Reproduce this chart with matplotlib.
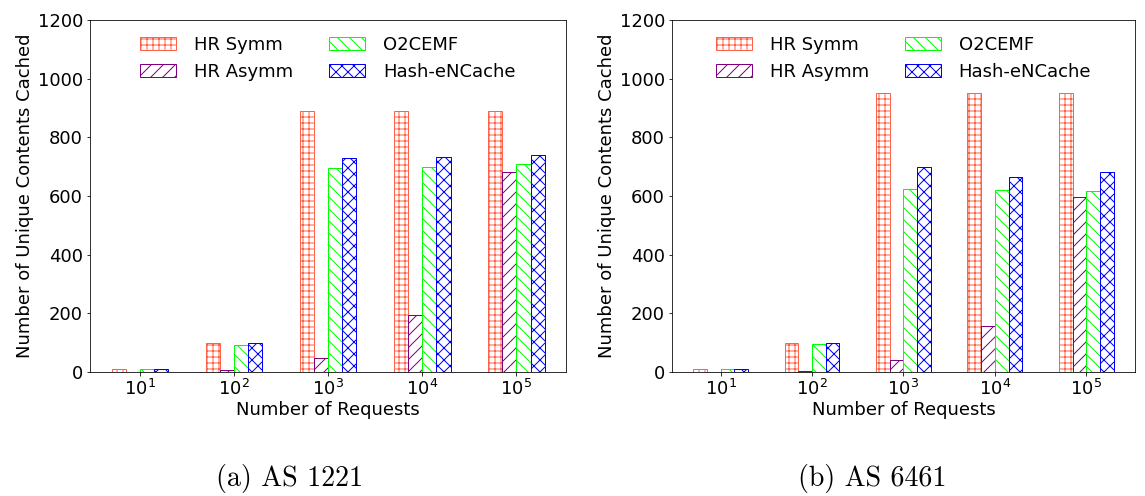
import numpy as np
import matplotlib.pyplot as plt

# Data
requests = ['$10^1$', '$10^2$', '$10^3$', '$10^4$', '$10^5$']
series = ['HR Symm', 'HR Asymm', 'O2CEMF', 'Hash-eNCache']

as1221_hr_symm = [10, 100, 890, 890, 890]
as1221_hr_asymm = [1, 7, 48, 193, 683]
as1221_o2cemf = [10, 93, 695, 700, 708]
as1221_hash = [10, 100, 728, 733, 740]

as6461_hr_symm = [10, 100, 950, 950, 950]
as6461_hr_asymm = [1, 3, 40, 157, 597]
as6461_o2cemf = [10, 97, 622, 620, 617]
as6461_hash = [10, 100, 697, 663, 682]

colors = ['tomato', 'purple', 'lime', 'blue']
hatches = ['++', '//', '\\\\', 'xx']

fig = plt.figure(figsize=(1145 / 72, 496 / 72), dpi=72)
ax1 = fig.add_axes([0.0786, 0.25, 0.416, 0.71])
ax2 = fig.add_axes([0.587, 0.25, 0.404, 0.71])

panels = [
    (ax1, [as1221_hr_symm, as1221_hr_asymm, as1221_o2cemf, as1221_hash]),
    (ax2, [as6461_hr_symm, as6461_hr_asymm, as6461_o2cemf, as6461_hash]),
]

x = np.arange(len(requests))
width = 0.15
for ax, values in panels:
    for i, vals in enumerate(values):
        ax.bar(x + (i - 1.5) * width, vals, width, label=series[i],
               color='white', edgecolor=colors[i], hatch=hatches[i], linewidth=1)
    ax.set_ylim(0, 1200)
    ax.set_xticks(x)
    ax.set_xticklabels(requests, fontsize=18)
    ax.tick_params(axis='y', labelsize=18)
    ax.set_xlabel('Number of Requests', fontsize=18, labelpad=2)
    ax.set_ylabel('Number of Unique Contents Cached', fontsize=18)
    ax.legend(loc='upper center', ncol=2, frameon=False, fontsize=18,
              columnspacing=2.0, handlelength=2.0, handletextpad=1.0)

# sub-figure captions in Computer Modern
fig.text(0.253, 0.02, '(a) AS 1221', ha='center', fontsize=28, family='cmr10')
fig.text(0.762, 0.02, '(b) AS 6461', ha='center', fontsize=28, family='cmr10')

fig.savefig('out.png', dpi=72)
